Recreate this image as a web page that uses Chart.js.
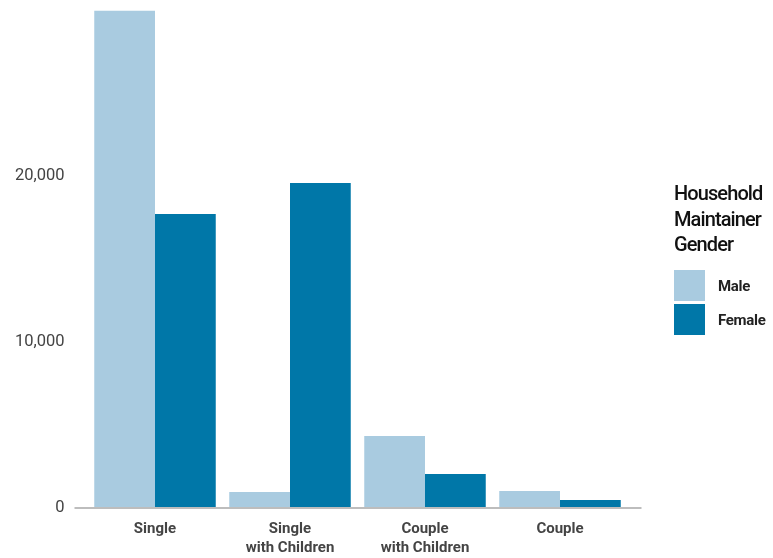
<!DOCTYPE html>
<html>
<head>
<meta charset="utf-8">
<script src="https://cdn.jsdelivr.net/npm/chart.js@4"></script>
<style>
  body { margin: 0; background: #fff; }
  #wrap { position: relative; width: 773px; height: 558px; }
  #legend {
    position: absolute; left: 674px; top: 181px;
    font-family: "Roboto", sans-serif;
    color: #111;
  }
  #legend .title { font-size: 20px; font-weight: 500; line-height: 25.5px; letter-spacing: -0.9px; margin-bottom: 11px; }
  #legend .item { display: flex; align-items: center; height: 34px; font-size: 15px; font-weight: bold; color: #222; letter-spacing: -0.3px; }
  #legend .sw { width: 31px; height: 31px; margin-right: 13px; }
</style>
</head>
<body>
<div id="wrap">
  <canvas id="chart" width="773" height="558"></canvas>
  <div id="legend"></div>
</div>
<script>
// ==========================
// Data
// ==========================

const categories = [["Single"], ["Single", "with Children"], ["Couple", "with Children"], ["Couple"]];
const seriesNames = ["Male", "Female"];
const maleValues = [29950, 960, 4340, 1020];
const femaleValues = [17710, 19580, 2050, 480];
const yTicks = [0, 10000, 20000];
const colors = ["#a9cbe0", "#0077a8"];

const fontFamily = '"Roboto", sans-serif';

// ==========================
// Legend (HTML)
// ==========================

const legend = document.getElementById("legend");
let html = '<div class="title">Household<br>Maintainer<br>Gender</div>';
seriesNames.forEach((name, i) => {
    html += '<div class="item"><div class="sw" style="background:' + colors[i] + '"></div>' + name + '</div>';
});
legend.innerHTML = html;

// ==========================
// Base axis line
// ==========================

const baseLine = {
    id: "baseLine",
    afterDatasetsDraw(chart) {
        const c = chart.ctx;
        const y = chart.scales.y.getPixelForValue(0);
        c.save();
        c.strokeStyle = "#bdbdbd";
        c.lineWidth = 2;
        c.beginPath();
        c.moveTo(chart.chartArea.left - 13, y);
        c.lineTo(chart.chartArea.right + 14, y);
        c.stroke();
        c.restore();
    }
};

// ==========================
// Chart
// ==========================

new Chart(document.getElementById("chart"), {
    type: "bar",
    data: {
        labels: categories,
        datasets: [
            { label: seriesNames[0], data: maleValues, backgroundColor: colors[0] },
            { label: seriesNames[1], data: femaleValues, backgroundColor: colors[1] }
        ]
    },
    options: {
        responsive: false,
        animation: false,
        layout: { padding: { top: 10, right: 145.5, bottom: 0, left: 0 } },
        plugins: { legend: { display: false }, tooltip: { enabled: false } },
        datasets: { bar: { categoryPercentage: 0.9, barPercentage: 1.0 } },
        scales: {
            x: {
                grid: { display: false },
                border: { display: false },
                ticks: {
                    color: "#444",
                    padding: 4,
                    font: { family: fontFamily, size: 15, weight: "bold", lineHeight: 1.25 }
                },
                afterFit(scale) { scale.height = 50; }
            },
            y: {
                min: 0,
                max: 30000,
                grid: { display: false, drawTicks: false },
                border: { display: false },
                afterBuildTicks(scale) { scale.ticks = yTicks.map(v => ({ value: v })); },
                ticks: {
                    color: "#444",
                    padding: 23,
                    font: { family: fontFamily, size: 16.5 },
                    callback: v => v.toLocaleString("en-US")
                },
                afterFit(scale) {
                    scale.width = 87.5;
                    scale.paddingTop = 0;
                    scale.paddingBottom = 0;
                }
            }
        }
    },
    plugins: [baseLine]
});
</script>
</body>
</html>
